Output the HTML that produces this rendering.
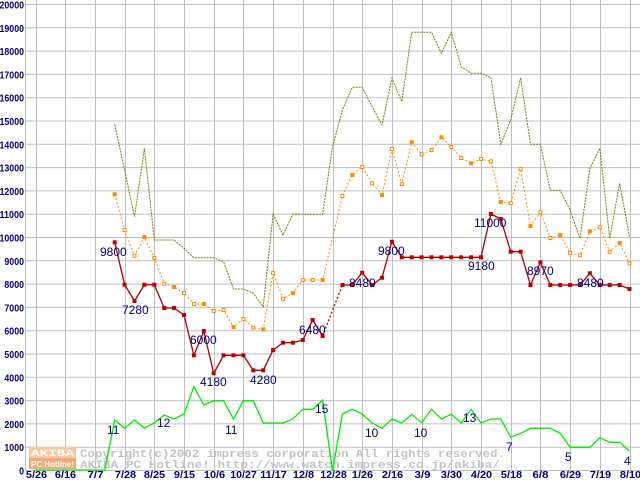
<!DOCTYPE html>
<html><head><meta charset="utf-8"><style>
html,body{margin:0;padding:0;background:#fff;}
svg{display:block;}
.yl{font:bold 10px "Liberation Sans",sans-serif;fill:#000080;}
.xl{font:bold 10px "Liberation Sans",sans-serif;fill:#000080;}
.lb{font:12px "Liberation Sans",sans-serif;fill:#000080;}
.cp{font:bold 11px "Liberation Mono",monospace;fill:#c4c4c4;}
</style></head><body>
<svg width="640" height="480" xmlns="http://www.w3.org/2000/svg">
<rect width="640" height="480" fill="#fff"/>
<g id="grid" stroke="#c0c0c0" stroke-width="1"></g>
<g id="ylab"></g>
<g id="xlab"></g>
<g id="wm">
<rect x="29" y="447" width="47" height="11" fill="#f8c8a0"/>
<rect x="29" y="458" width="47" height="11" fill="#f4a878"/>
<text x="31" y="456" textLength="43" lengthAdjust="spacingAndGlyphs" style="font:bold 10px 'Liberation Mono',monospace;fill:#fff">AKIBA</text>
<text x="31" y="467" textLength="43" lengthAdjust="spacingAndGlyphs" style="font:bold 8px 'Liberation Sans',sans-serif;fill:#fff">PC Hotline!</text>
<text class="cp" x="80" y="457" textLength="425" lengthAdjust="spacingAndGlyphs">Copyright(c)2002 impress corporation All rights reserved.</text>
<text class="cp" x="80" y="468" textLength="420" lengthAdjust="spacingAndGlyphs">AKIBA PC Hotline!  http://www.watch.impress.co.jp/akiba/</text>
</g>
<g id="series"></g>
<g id="labels">
<text class="lb" x="100" y="256">9800</text>
<text class="lb" x="122" y="314">7280</text>
<text class="lb" x="190" y="344">6000</text>
<text class="lb" x="200" y="386">4180</text>
<text class="lb" x="250" y="384">4280</text>
<text class="lb" x="299" y="334">6480</text>
<text class="lb" x="349" y="287">8480</text>
<text class="lb" x="378" y="255">9800</text>
<text class="lb" x="474" y="227">11000</text>
<text class="lb" x="468" y="270">9180</text>
<text class="lb" x="527" y="275">8970</text>
<text class="lb" x="577" y="287">8480</text>
<text class="lb" x="107" y="434">11</text>
<text class="lb" x="157" y="427">12</text>
<text class="lb" x="225" y="434">11</text>
<text class="lb" x="315" y="413">15</text>
<text class="lb" x="365" y="437">10</text>
<text class="lb" x="414" y="437">10</text>
<text class="lb" x="463" y="422">13</text>
<text class="lb" x="506" y="451">7</text>
<text class="lb" x="565" y="461">5</text>
<text class="lb" x="624" y="465">4</text>
</g>
</svg>
<script>
var NS="http://www.w3.org/2000/svg";
function el(t,a,p){var e=document.createElementNS(NS,t);for(var k in a)e.setAttribute(k,a[k]);document.getElementById(p).appendChild(e);return e;}
function X(k){return 35.5+9.9*k;}
for(var i=0;i<=20;i++){var y=4.5+23.3*i;el('line',{x1:25,x2:640,y1:y,y2:y},'grid');
 var s=String(20000-1000*i);var w=s.length*4.9;
 var t=el('text',{x:24-w,y:y+4,'class':'yl',textLength:w,lengthAdjust:'spacingAndGlyphs'},'ylab');t.textContent=s;}
el('line',{x1:25.5,x2:25.5,y1:0,y2:470},'grid');
var xl=["5/26","6/16","7/7","7/28","8/25","9/15","10/6","10/27","11/17","12/8","12/28","1/26","2/16","3/9","3/30","4/20","5/18","6/8","6/29","7/19","8/10"];
for(var j=0;j<=20;j++){var x=Math.round(35.5+29.7*j)+0.5;el('line',{x1:x,x2:x,y1:0,y2:470},'grid');
 var w=xl[j].length*5.3;
 var t=el('text',{x:x-w/2,y:478,'class':'xl',textLength:w,lengthAdjust:'spacingAndGlyphs'},'xlab');t.textContent=xl[j];}
function pts(start,arr){var s=[];for(var i=0;i<arr.length;i++){if(arr[i]!==null)s.push([X(start+i),arr[i]]);}return s;}
function poly(p,attrs){attrs.points=p.map(function(q){return q[0].toFixed(1)+','+q[1];}).join(' ');attrs.fill='none';el('polyline',attrs,'series');}
var olive=[124.3,170,216.7,148.3,240,240,240,248.3,257.7,257.7,257.7,261.7,289,289,293.3,306.7,214.3,235,214.3,214.3,214.3,214.3,146.7,110,87.3,87.3,106.7,125,78.3,101.7,32.3,32.3,32.3,53.3,32.3,66.7,73.3,73.3,77.7,144.3,120,77.7,144.3,144.3,190.3,190.3,210,238.3,168.3,148.3,238.3,183.3,236.7];
poly(pts(8,olive),{stroke:'#808000','stroke-width':1,'stroke-dasharray':'2,1'});
var orange=[194.3,230,255.7,237,258,283.7,287,293,304,304,311,310,327,319,327.7,329.3,273,298.7,293,280,280,280,238,196,175,167,183.3,195,149,184,142.3,154.3,150,137.3,147,158,163.3,159,161.3,202,203,169,226,212.3,238,235,253,255.3,231.3,227.3,251.7,243,263.3];
var op=pts(8,orange);
poly(op,{stroke:'#ff8c00','stroke-width':1,'stroke-dasharray':'2,2'});
op.forEach(function(q,i){if(i==22)return;el('rect',{x:q[0]-1.5,y:q[1]-1.5,width:3,height:3,fill:(i%3==0?'#ff8c00':'#fff'),stroke:'#ff8c00','stroke-width':1},'series');});
var red1=[242.3,284.7,301,284.7,284.7,308,308,315,355.3,331,373.3,355.3,355.3,355.3,370.3,370.3,350,342.7,342.7,340,320,336];
var red2=[285,285,272.7,285,277.7,241.7,257.3,257.3,257.3,257.3,257.3,257.3,257.3,257.3,257.3,214,219,251.7,251.7,285,262.3,285,285,285,285,273.3,285,285,285,289];
var r1=pts(8,red1),r2=pts(31,red2);
poly(r1,{stroke:'#b00000','stroke-width':1.3});
poly([r1[r1.length-1],r2[0]],{stroke:'#b00000','stroke-width':1.3,'stroke-dasharray':'2,2'});
poly(r2,{stroke:'#b00000','stroke-width':1.3});
r1.concat(r2).forEach(function(q){el('rect',{x:q[0]-2,y:q[1]-2,width:4,height:4,fill:'#c00000'},'series');});
var green=[470,470,470,470,470,470,470,470,420,428.3,420,428,423,415,419,414,386.7,405,400.7,400.7,419,400.7,400.7,423,423,423,419,409.3,409.3,400,471,414,409.3,414,423,428.3,419,423,414.3,422.7,409.3,419,414.3,423,409.3,423,419,419,437.3,433.3,428.3,428.3,428.3,433.3,447.3,447.3,447.3,437.7,442.3,442.3,451];
poly(pts(0,green),{stroke:'#00ee00','stroke-width':1.3});
</script>
</body></html>
